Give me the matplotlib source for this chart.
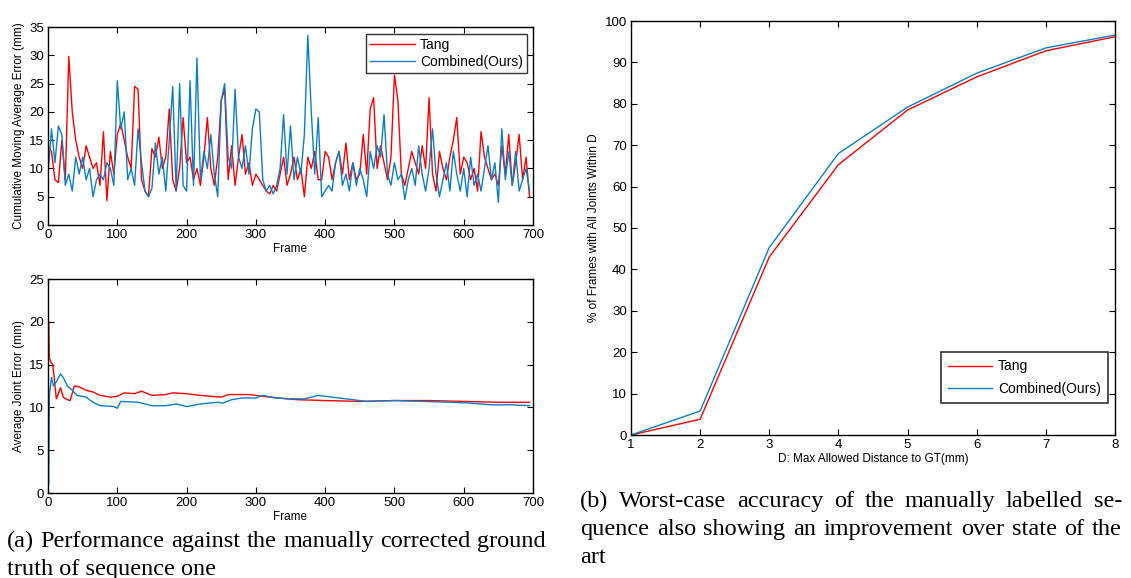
import numpy as np
import matplotlib
matplotlib.use("Agg")
import matplotlib.pyplot as plt

plt.rcParams['font.family'] = ['Liberation Sans', 'DejaVu Sans']

RED = '#ff0000'
BLUE = '#0a7fc8'

# ---------------- data ----------------
frame_step = 5
tang_moving = [
    14, 13, 8, 7.5, 15, 8, 29.8, 20, 15, 12, 10, 14, 12, 10, 11, 7, 16.5, 4.3, 13, 9,
    16, 18, 15, 12, 10, 24.5, 24, 8, 6, 5, 13.5, 12, 15.5, 10, 12, 20.5, 8, 6, 10, 19,
    11, 12, 8, 10, 7, 12, 19, 10, 7, 12, 22, 24, 8, 14, 7, 12, 16, 9, 11, 7,
    9, 8, 7, 6, 5.5, 7, 6, 9, 12, 7, 9, 12, 8, 10, 5, 12, 10, 13, 8, 8,
    13, 12, 8, 11, 13, 9, 14.5, 8, 11, 8, 9, 16, 9, 20.5, 22.5, 10, 14, 11, 8, 12,
    26.5, 22, 9, 7, 10, 13, 11, 9, 14, 10, 22.5, 9, 6, 13, 10, 8, 12, 15, 19, 9,
    12, 11, 8, 10, 6, 16.5, 12, 10, 8, 9, 7, 14, 9, 16, 7, 11, 16, 8, 12, 5,
]
combined_moving = [
    9, 17, 11, 17.5, 16, 7, 9, 6, 12, 9, 12, 8, 10, 5, 8, 9, 8, 11, 10, 7,
    25.5, 17, 20, 8, 10, 7, 17, 11, 6, 5, 6.5, 14.5, 9, 12, 6, 15, 24.5, 6, 25, 7,
    6, 25.5, 7, 29.5, 8, 13, 10, 16, 9, 5, 22, 25, 12, 10, 24, 12, 10, 14, 9, 17,
    20.5, 20, 8, 6, 7, 5.5, 7, 10, 19.5, 9, 17.5, 8, 12, 9, 16, 33.5, 20, 9, 19, 5,
    6, 7, 6, 11, 13, 7, 9, 6, 11, 7, 10, 8, 5, 13, 10, 14, 12, 19.5, 9, 7,
    11, 8, 9, 4.5, 8, 10, 7, 14, 9, 6, 10, 17, 9, 5, 8, 11, 6, 13, 9, 6,
    10, 5, 12, 7, 9, 6, 10, 14, 8, 11, 4, 17, 8, 13, 7, 13, 6, 8, 10, 6,
]

tang_avg_frames = [1, 2, 4, 7, 12, 15, 18, 22, 28, 32, 38, 45, 55, 65, 75, 90, 100,
                   110, 125, 135, 150, 170, 180, 200, 220, 250, 260, 290, 310, 330,
                   360, 400, 450, 500, 550, 600, 650, 695]
tang_avg = [20, 15.8, 15.3, 15.0, 11.0, 11.6, 12.3, 11.2, 10.9, 10.8, 12.5, 12.4,
            12.0, 11.8, 11.4, 11.2, 11.3, 11.7, 11.6, 11.9, 11.4, 11.5, 11.7, 11.6,
            11.4, 11.2, 11.5, 11.5, 11.3, 11.1, 10.9, 10.8, 10.7, 10.8, 10.8, 10.7,
            10.6, 10.6]
comb_avg_frames = [1, 2, 5, 8, 12, 18, 22, 28, 35, 42, 55, 65, 75, 95, 100, 105, 130,
                   150, 170, 185, 200, 220, 245, 252, 265, 280, 300, 310, 330, 350,
                   370, 390, 410, 440, 460, 500, 540, 580, 610, 640, 670, 695]
comb_avg = [1.0, 11.5, 13.5, 12.5, 13.0, 13.9, 13.5, 12.5, 12.0, 11.4, 11.2, 10.6,
            10.2, 10.1, 9.9, 10.7, 10.6, 10.2, 10.2, 10.4, 10.1, 10.4, 10.6, 10.5,
            10.9, 11.1, 11.1, 11.4, 11.1, 11.0, 11.0, 11.4, 11.2, 10.9, 10.7, 10.8,
            10.7, 10.6, 10.5, 10.3, 10.3, 10.2]

D_values = [1, 2, 3, 4, 5, 6, 7, 8]
tang_pct = [0, 3.8, 43.0, 65.3, 78.5, 86.5, 92.8, 96.2]
comb_pct = [0, 5.8, 45.3, 68.0, 79.2, 87.4, 93.5, 96.6]

labels = ['Tang', 'Combined(Ours)']

caption_a = ["(a) Performance against the manually corrected ground",
             "truth of sequence one"]
caption_b = ["(b) Worst-case accuracy of the manually labelled se-",
             "quence also showing an improvement over state of the",
             "art"]

# ---------------- figure ----------------
W, H = 1131, 578
fig = plt.figure(figsize=(W / 100, H / 100), dpi=100)


def ax_at(x0, y0, x1, y1):
    return fig.add_axes([x0 / W, 1 - y1 / H, (x1 - x0) / W, (y1 - y0) / H])


def style(ax):
    ax.tick_params(direction='in', top=True, right=True, labelsize=9.5,
                   length=4, width=0.8, pad=3)
    for s in ax.spines.values():
        s.set_linewidth(1.0)


lab_font = 8.5

# top-left
ax1 = ax_at(48, 27, 533, 225)
fr = np.arange(len(tang_moving)) * frame_step
ax1.plot(fr, tang_moving, color=RED, lw=1.0, label=labels[0])
ax1.plot(fr, combined_moving, color=BLUE, lw=1.0, label=labels[1])
ax1.set_xlim(0, 700)
ax1.set_ylim(0, 35)
ax1.set_xticks(range(0, 701, 100))
ax1.set_yticks(range(0, 36, 5))
ax1.set_xlabel('Frame', fontsize=lab_font, labelpad=1)
ax1.set_ylabel('Cumulative Moving Average Error (mm)', fontsize=lab_font, labelpad=3)
style(ax1)
leg1 = ax1.legend(loc='upper right', fontsize=10, frameon=True, fancybox=False,
                  edgecolor='black', handlelength=3.2, borderpad=0.3,
                  labelspacing=0.2, handletextpad=0.4, borderaxespad=0.0,
                  bbox_to_anchor=(0.988, 0.965))
leg1.get_frame().set_linewidth(1.0)

# bottom-left
ax2 = ax_at(48, 279, 533, 493)
ax2.plot(tang_avg_frames, tang_avg, color=RED, lw=1.0)
ax2.plot(comb_avg_frames, comb_avg, color=BLUE, lw=1.0)
ax2.set_xlim(0, 700)
ax2.set_ylim(0, 25)
ax2.set_xticks(range(0, 701, 100))
ax2.set_yticks(range(0, 26, 5))
ax2.set_xlabel('Frame', fontsize=lab_font, labelpad=1)
ax2.set_ylabel('Average Joint Error (mm)', fontsize=lab_font, labelpad=3)
style(ax2)

# right
ax3 = ax_at(631, 21, 1115, 435)
ax3.plot(D_values, tang_pct, color=RED, lw=1.0, label=labels[0])
ax3.plot(D_values, comb_pct, color=BLUE, lw=1.0, label=labels[1])
ax3.set_xlim(1, 8)
ax3.set_ylim(0, 100)
ax3.set_xticks(D_values)
ax3.set_yticks(range(0, 101, 10))
ax3.set_xlabel('D: Max Allowed Distance to GT(mm)', fontsize=lab_font, labelpad=1)
ax3.set_ylabel('% of Frames with All Joints Within D', fontsize=lab_font, labelpad=3)
style(ax3)
leg3 = ax3.legend(loc='lower right', fontsize=10, frameon=True, fancybox=False,
                  edgecolor='black', handlelength=3.2, borderpad=0.5,
                  labelspacing=0.6, handletextpad=0.4, borderaxespad=0.0,
                  bbox_to_anchor=(0.985, 0.078))
leg3.get_frame().set_linewidth(1.2)

# ---------------- captions (justified) ----------------
cap_font = dict(family=['Liberation Serif', 'DejaVu Serif'], size=17.5)
renderer = fig.canvas.get_renderer()


def justified(lines, x0, x1, y_base, dy):
    for i, line in enumerate(lines):
        y = 1 - (y_base + i * dy) / H
        words = line.split(' ')
        last = (i == len(lines) - 1)
        if last or len(words) == 1:
            fig.text(x0 / W, y, line, ha='left', va='baseline', **cap_font)
            continue
        ts = [fig.text(0, y, w, ha='left', va='baseline', **cap_font) for w in words]
        widths = [t.get_window_extent(renderer).width for t in ts]
        gap = ((x1 - x0) - sum(widths)) / (len(words) - 1)
        x = x0
        for t, wd in zip(ts, widths):
            t.set_x(x / W)
            x += wd + gap


justified(caption_a, 7, 546, 547, 28)
justified(caption_b, 580, 1122, 507, 28)

fig.savefig('out.png', dpi=100)
